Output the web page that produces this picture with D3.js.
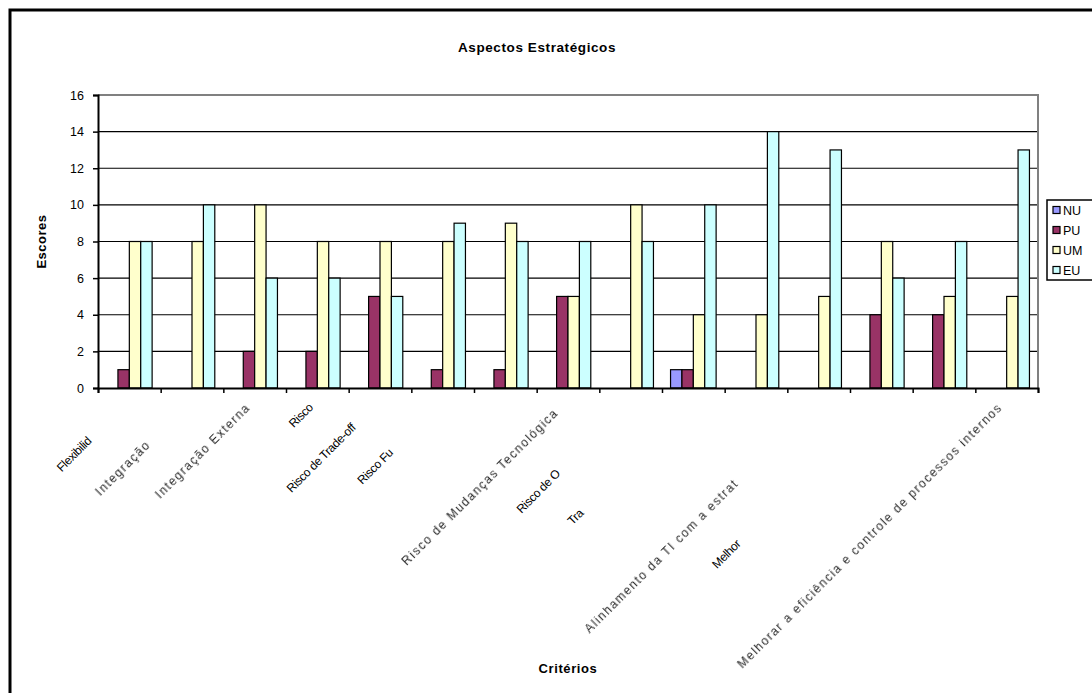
<!DOCTYPE html>
<html>
<head>
<meta charset="utf-8">
<script src="https://cdn.jsdelivr.net/npm/d3@7"></script>
<style>
  body { margin: 0; background: #ffffff; }
  svg { display: block; font-family: "Liberation Sans", Arial, sans-serif; }
</style>
</head>
<body>
<svg id="chart" width="1092" height="693"></svg>
<script>
// ---- data ----
const categories = [
  "Flexibilidade da TI",
  "Integração Interna",
  "Integração Externa",
  "Risco",
  "Risco de Trade-off de TI",
  "Risco Funcional da TI",
  "Risco Estratégico",
  "Risco de Mudanças Tecnológicas",
  "Risco de Obsolescência da TI",
  "Transferência de Conhecimentos",
  "Redução de Custos Operacionais da Empresa",
  "Alinhamento da TI com a estratégia do negócio",
  "Melhorar a qualidade dos produtos e serviços",
  "Aumento da produtividade",
  "Melhorar a eficiência e controle de processos internos"
];
// text that is actually printed under each category (long names are cut)
const tickLabels = [
  "Flexibilid",
  "Integração",
  "Integração Externa",
  "Risco",
  "Risco de Trade-off",
  "Risco Fu",
  "",
  "Risco de Mudanças Tecnológica",
  "Risco de O",
  "Tra",
  "",
  "Alinhamento da TI com a estrat",
  "Melhor",
  "",
  "Melhorar a eficiência e controle de processos internos"
];
const seriesNames = ["NU", "PU", "UM", "EU"];
const nuValues = [0, 0, 0, 0, 0, 0, 0, 0, 0, 1, 0, 0, 0, 0, 0];
const puValues = [1, 0, 2, 2, 5, 1, 1, 5, 0, 1, 0, 0, 4, 4, 0];
const umValues = [8, 8, 10, 8, 8, 8, 9, 5, 10, 4, 4, 5, 8, 5, 5];
const euValues = [8, 10, 6, 6, 5, 9, 8, 8, 8, 10, 14, 13, 6, 8, 13];
const yTickValues = [0, 2, 4, 6, 8, 10, 12, 14, 16];
const chartTitle = "Aspectos Estratégicos";
const xAxisTitle = "Critérios";
const yAxisTitle = "Escores";

// ---- styling ----
const seriesColors = ["#9999FF", "#993366", "#FFFFCC", "#CCFFFF"];
const blurredLabelIdx = new Set([1, 2, 7, 11, 14]);
const plot = { left: 98, right: 1038, top: 95, bottom: 388 };

const svg = d3.select("#chart");

svg.append("defs").append("filter").attr("id", "soft")
  .append("feGaussianBlur").attr("stdDeviation", 0.4);

// chart area frame
svg.append("rect")
  .attr("x", 10).attr("y", 10)
  .attr("width", 1120).attr("height", 720)
  .attr("fill", "#ffffff").attr("stroke", "#000").attr("stroke-width", 3);

const x = d3.scaleBand().domain(d3.range(categories.length))
  .range([plot.left, plot.right]).paddingInner(0).paddingOuter(0);
const xs = d3.scaleBand().domain(seriesNames)
  .range([0, x.bandwidth()]).paddingInner(0).paddingOuter(0.75);
const y = d3.scaleLinear().domain([0, 16]).range([plot.bottom, plot.top]);

// horizontal gridlines
svg.append("g")
  .selectAll("line")
  .data(yTickValues.filter(v => v > 0 && v < 16))
  .join("line")
  .attr("x1", plot.left).attr("x2", plot.right)
  .attr("y1", d => y(d)).attr("y2", d => y(d))
  .attr("stroke", "#000").attr("stroke-width", 1.2);

// plot area border (top / right)
svg.append("path")
  .attr("d", `M${plot.left},${y(16)}H${plot.right}V${plot.bottom}`)
  .attr("fill", "none").attr("stroke", "#808080").attr("stroke-width", 2);

// bars
const seriesValues = [nuValues, puValues, umValues, euValues];
const barData = [];
categories.forEach((c, i) => {
  seriesNames.forEach((s, j) => {
    barData.push({ i, s, j, v: seriesValues[j][i] });
  });
});
svg.append("g")
  .selectAll("rect")
  .data(barData.filter(d => d.v > 0))
  .join("rect")
  .attr("x", d => x(d.i) + xs(d.s))
  .attr("y", d => y(d.v))
  .attr("width", xs.bandwidth())
  .attr("height", d => y(0) - y(d.v))
  .attr("fill", d => seriesColors[d.j])
  .attr("stroke", "#000").attr("stroke-width", 1.2);

// y axis
const yAxis = d3.axisLeft(y).tickValues(yTickValues).tickSize(5).tickPadding(9);
const yg = svg.append("g").attr("transform", `translate(${plot.left},0)`).call(yAxis);
yg.select(".domain").attr("stroke", "#000").attr("stroke-width", 2);
yg.selectAll(".tick line").attr("stroke", "#000").attr("stroke-width", 1.5);
yg.selectAll(".tick text").attr("font-size", 12.5).attr("fill", "#000")
  .attr("font-family", "Liberation Sans, Arial, sans-serif");

// x axis (tick marks on category boundaries)
const boundaries = d3.range(categories.length + 1);
const xb = d3.scaleLinear().domain([0, categories.length]).range([plot.left, plot.right]);
const xAxis = d3.axisBottom(xb).tickValues(boundaries).tickSize(5).tickFormat("");
const xg = svg.append("g").attr("transform", `translate(0,${plot.bottom})`).call(xAxis);
xg.select(".domain").attr("stroke", "#000").attr("stroke-width", 2);
xg.selectAll(".tick line").attr("stroke", "#000").attr("stroke-width", 1.5);

// rotated category labels: the printed part starts where the full name would start
function styleLabel(sel, blurred) {
  sel.attr("font-size", 12)
     .attr("letter-spacing", blurred ? 1.5 : -0.35)
     .attr("fill", blurred ? "#262626" : "#000");
}
const measure = svg.append("text").attr("visibility", "hidden");
const labelG = svg.append("g");
categories.forEach((name, i) => {
  if (!tickLabels[i]) return;
  const blurred = blurredLabelIdx.has(i);
  styleLabel(measure, blurred);
  measure.text(name);
  const w = measure.node().getComputedTextLength();
  const g = labelG.append("g")
    .attr("transform", `translate(${x(i) + x.bandwidth() / 2 - 10},${plot.bottom + 14}) rotate(-45)`);
  const t = g.append("text")
    .attr("x", -w).attr("y", 0).attr("dy", "0.75em")
    .attr("text-anchor", "start")
    .text(tickLabels[i]);
  styleLabel(t, blurred);
  if (blurred) t.attr("filter", "url(#soft)");
});
measure.remove();

// titles
svg.append("text")
  .attr("x", 537).attr("y", 52)
  .attr("text-anchor", "middle")
  .attr("font-size", 13.5).attr("font-weight", "bold").attr("letter-spacing", 0.6)
  .text(chartTitle);

svg.append("text")
  .attr("x", (plot.left + plot.right) / 2).attr("y", 673)
  .attr("text-anchor", "middle")
  .attr("font-size", 13).attr("font-weight", "bold").attr("letter-spacing", 0.6)
  .text(xAxisTitle);

svg.append("text")
  .attr("transform", `translate(46,${(plot.top + plot.bottom) / 2}) rotate(-90)`)
  .attr("text-anchor", "middle")
  .attr("font-size", 13).attr("font-weight", "bold").attr("letter-spacing", 0.5)
  .text(yAxisTitle);

// legend
const legend = svg.append("g").attr("transform", "translate(1047,200)");
legend.append("rect")
  .attr("x", 0).attr("y", 0).attr("width", 70).attr("height", 80)
  .attr("fill", "#fff").attr("stroke", "#000").attr("stroke-width", 1.5);
const item = legend.selectAll("g.item").data(seriesNames).join("g")
  .attr("class", "item")
  .attr("transform", (d, i) => `translate(6,${10 + i * 20})`);
item.append("rect")
  .attr("x", 0).attr("y", -3.5).attr("width", 7).attr("height", 7)
  .attr("fill", (d, i) => seriesColors[i]).attr("stroke", "#000").attr("stroke-width", 1.2);
item.append("text")
  .attr("x", 10).attr("dy", "0.36em")
  .attr("font-size", 12.5)
  .text(d => d);
</script>
</body>
</html>
